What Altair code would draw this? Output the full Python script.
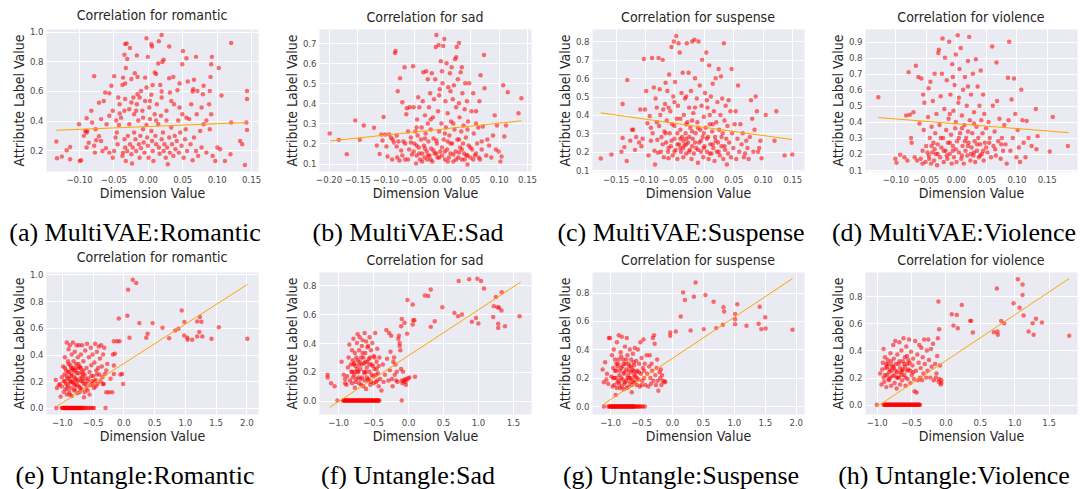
import altair as alt
import pandas as pd

# ---------------- data ----------------
NAMES = ["romantic", "sad", "suspense", "violence", "romantic", "sad", "suspense", "violence"]
CAPTIONS = ["(a) MultiVAE:Romantic", "(b) MultiVAE:Sad", "(c) MultiVAE:Suspense", "(d) MultiVAE:Violence",
            "(e) Untangle:Romantic", "(f) Untangle:Sad", "(g) Untangle:Suspense", "(h) Untangle:Violence"]

A_PTS = [
    [-0.002,0.955],[0.02,0.977],[0.006,0.90],[0.005,0.915],[-0.033,0.916],[-0.031,0.92],[-0.026,0.89],[-0.034,0.845],
    [0.016,0.935],[0.031,0.90],[0.051,0.87],[0.121,0.923],[-0.016,0.84],[-0.03,0.815],[0.0,0.83],[0.015,0.785],
    [0.021,0.795],[0.023,0.81],[0.056,0.82],[0.07,0.83],[0.093,0.83],[0.092,0.78],[0.05,0.78],[0.103,0.755],
    [-0.032,0.755],[-0.078,0.70],[-0.019,0.72],[-0.015,0.695],[0.01,0.725],[0.012,0.715],[-0.004,0.69],[0.031,0.686],
    [0.037,0.695],[0.091,0.695],[0.067,0.675],[0.081,0.635],[-0.049,0.70],[-0.036,0.69],[-0.033,0.65],[-0.037,0.64],
    [-0.024,0.68],[-0.053,0.635],[-0.071,0.52],[-0.062,0.59],[-0.056,0.585],[-0.01,0.60],[0.007,0.64],[0.018,0.64],
    [0.046,0.65],[0.058,0.664],[0.066,0.612],[0.065,0.596],[0.072,0.60],[0.08,0.578],[0.09,0.60],[0.107,0.57],
    [0.144,0.60],[0.144,0.545],[0.043,0.605],[0.032,0.59],[0.005,0.574],[-0.015,0.578],[-0.021,0.556],[-0.033,0.545],
    [-0.043,0.556],[-0.064,0.533],[-0.082,0.466],[-0.089,0.416],[-0.10,0.376],[-0.113,0.222],[-0.118,0.20],[-0.133,0.259],
    [-0.132,0.146],[-0.125,0.157],[-0.113,0.14],[-0.099,0.128],[-0.097,0.132],[-0.093,0.297],[-0.091,0.33],[-0.089,0.32],
    [-0.089,0.218],[-0.086,0.25],[-0.078,0.23],[-0.077,0.184],[-0.075,0.268],[-0.071,0.295],[-0.068,0.263],[-0.066,0.195],
    [-0.061,0.213],[-0.056,0.184],[-0.051,0.15],[-0.049,0.195],[-0.047,0.286],[-0.045,0.32],[-0.044,0.24],[-0.042,0.37],
    [-0.041,0.448],[-0.039,0.42],[-0.037,0.162],[-0.036,0.184],[-0.034,0.274],[-0.033,0.218],[-0.032,0.128],[-0.03,0.195],
    [-0.029,0.297],[-0.027,0.376],[-0.026,0.24],[-0.024,0.173],[-0.023,0.11],[-0.022,0.218],[-0.02,0.443],[-0.02,0.32],
    [-0.018,0.274],[-0.017,0.195],[-0.016,0.51],[-0.014,0.40],[-0.013,0.24],[-0.012,0.15],[-0.011,0.297],[-0.01,0.213],
    [-0.008,0.466],[-0.007,0.342],[-0.006,0.252],[-0.005,0.184],[-0.004,0.533],[-0.002,0.37],[-0.001,0.286],[0.0,0.23],
    [0.001,0.15],[0.002,0.488],[0.003,0.41],[0.005,0.33],[0.006,0.263],[0.007,0.195],[0.008,0.128],[0.01,0.443],
    [0.011,0.297],[0.012,0.24],[0.013,0.51],[0.015,0.376],[0.016,0.218],[0.017,0.177],[0.019,0.432],[0.02,0.274],
    [0.022,0.32],[0.023,0.195],[0.024,0.24],[0.026,0.15],[0.027,0.40],[0.028,0.218],[0.029,0.105],[0.031,0.286],
    [0.032,0.184],[0.034,0.353],[0.035,0.24],[0.037,0.162],[0.038,0.51],[0.039,0.297],[0.04,0.207],[0.042,0.263],
    [0.044,0.40],[0.045,0.184],[0.047,0.32],[0.049,0.23],[0.05,0.443],[0.052,0.15],[0.054,0.274],[0.055,0.342],
    [0.057,0.195],[0.06,0.41],[0.062,0.24],[0.065,0.132],[0.067,0.286],[0.07,0.195],[0.073,0.162],[0.076,0.33],
    [0.078,0.218],[0.081,0.376],[0.085,0.184],[0.089,0.51],[0.09,0.342],[0.092,0.443],[0.094,0.162],[0.098,0.128],
    [0.101,0.218],[0.105,0.207],[0.112,0.128],[0.12,0.173],[0.121,0.387],[0.134,0.263],[0.137,0.24],[0.141,0.10],
    [0.144,0.337],[0.143,0.387],[-0.041,0.51],[-0.051,0.466],[-0.056,0.432],[-0.06,0.376],[-0.068,0.41],[-0.076,0.342],
    [-0.081,0.387],[-0.088,0.33],[-0.024,0.522],[-0.027,0.477],[-0.012,0.556],[0.003,0.533],[0.02,0.556],[0.027,0.466],
    [0.034,0.533],[0.046,0.488],[0.056,0.42],[0.063,0.51],[0.071,0.443],[0.078,0.488],[0.085,0.40],[0.012,0.40],
    [-0.007,0.42],[-0.017,0.466],[-0.034,0.466],[-0.046,0.40],[-0.002,0.623],[0.02,0.596],
]

B_PTS = [
    [-0.198,0.25],[-0.182,0.218],[-0.168,0.147],[-0.153,0.315],[-0.145,0.218],[-0.138,0.29],[-0.12,0.278],[-0.115,0.19],
    [-0.11,0.148],[-0.107,0.245],[-0.105,0.215],[-0.103,0.332],[-0.1,0.245],[-0.098,0.185],[-0.096,0.135],[-0.093,0.245],
    [-0.09,0.228],[-0.088,0.12],[-0.087,0.22],[-0.085,0.205],[-0.083,0.65],[-0.082,0.66],[-0.08,0.24],[-0.079,0.13],
    [-0.078,0.46],[-0.077,0.21],[-0.075,0.115],[-0.074,0.525],[-0.072,0.165],[-0.07,0.405],[-0.068,0.21],[-0.066,0.58],
    [-0.065,0.12],[-0.063,0.345],[-0.062,0.375],[-0.06,0.26],[-0.058,0.17],[-0.057,0.38],[-0.055,0.23],[-0.053,0.145],
    [-0.051,0.585],[-0.05,0.38],[-0.049,0.2],[-0.047,0.26],[-0.046,0.1],[-0.045,0.14],[-0.044,0.32],[-0.043,0.24],
    [-0.042,0.43],[-0.041,0.18],[-0.04,0.38],[-0.039,0.12],[-0.037,0.22],[-0.036,0.28],[-0.035,0.15],[-0.034,0.41],
    [-0.033,0.555],[-0.032,0.19],[-0.031,0.13],[-0.03,0.34],[-0.029,0.25],[-0.028,0.56],[-0.027,0.16],[-0.026,0.12],
    [-0.025,0.3],[-0.024,0.21],[-0.023,0.38],[-0.022,0.14],[-0.021,0.45],[-0.02,0.27],[-0.019,0.175],[-0.018,0.55],
    [-0.017,0.11],[-0.016,0.33],[-0.015,0.225],[-0.014,0.42],[-0.013,0.15],[-0.012,0.52],[-0.011,0.68],[-0.01,0.74],
    [-0.009,0.2],[-0.008,0.13],[-0.007,0.36],[-0.006,0.69],[-0.005,0.26],[-0.004,0.47],[-0.003,0.16],[-0.002,0.61],
    [-0.001,0.3],[0.0,0.14],[0.001,0.5],[0.002,0.685],[0.003,0.22],[0.004,0.72],[0.005,0.12],[0.006,0.41],
    [0.007,0.28],[0.008,0.6],[0.009,0.17],[0.01,0.35],[0.011,0.48],[0.012,0.13],[0.013,0.24],[0.014,0.55],
    [0.015,0.15],[0.016,0.31],[0.017,0.58],[0.018,0.2],[0.019,0.42],[0.02,0.11],[0.021,0.49],[0.022,0.27],
    [0.023,0.62],[0.024,0.16],[0.025,0.38],[0.026,0.68],[0.027,0.22],[0.028,0.52],[0.029,0.13],[0.03,0.7],
    [0.031,0.33],[0.032,0.18],[0.033,0.555],[0.034,0.26],[0.035,0.12],[0.036,0.45],[0.037,0.2],[0.038,0.29],
    [0.039,0.15],[0.04,0.37],[0.041,0.5],[0.042,0.23],[0.043,0.14],[0.044,0.41],[0.045,0.095],[0.046,0.31],
    [0.047,0.19],[0.048,0.5],[0.05,0.13],[0.052,0.36],[0.053,0.17],[0.055,0.45],[0.056,0.25],[0.058,0.14],
    [0.06,0.36],[0.062,0.2],[0.064,0.28],[0.066,0.41],[0.067,0.12],[0.068,0.54],[0.07,0.17],[0.072,0.285],
    [0.074,0.64],[0.075,0.475],[0.078,0.14],[0.08,0.22],[0.083,0.19],[0.087,0.13],[0.09,0.24],[0.093,0.34],
    [0.095,0.17],[0.097,0.29],[0.1,0.16],[0.103,0.11],[0.105,0.135],[0.108,0.49],[0.11,0.235],[0.113,0.29],
    [0.116,0.455],[0.135,0.35],[0.14,0.425],
    [-0.06,0.12],[-0.05,0.16],[-0.045,0.19],[-0.04,0.15],[-0.035,0.11],[-0.03,0.175],[-0.025,0.14],[-0.02,0.12],
    [-0.015,0.165],[-0.01,0.15],[-0.005,0.13],[0.0,0.18],[0.005,0.16],[0.01,0.11],[0.015,0.2],[0.02,0.145],
    [0.025,0.12],[0.03,0.155],[0.035,0.17],[0.04,0.12],[0.045,0.14],[0.05,0.18],[0.055,0.12],[0.06,0.15],
    [0.065,0.13],[-0.07,0.14],[-0.08,0.185],[-0.065,0.2],[-0.055,0.205],[0.07,0.21],[0.01,0.21],[-0.01,0.215],
    [0.03,0.22],[-0.03,0.225],[0.005,0.25],[0.02,0.3],[-0.02,0.32],[0.045,0.27],[-0.045,0.28],[0.06,0.3],
    [0.03,0.4],[-0.005,0.44],[0.015,0.46],[0.035,0.58],[-0.025,0.52],[0.025,0.63],[0.0,0.56],
]

C_PTS = [
    [-0.175,0.163],[-0.157,0.185],[-0.14,0.2],[-0.138,0.275],[-0.138,0.46],[-0.135,0.225],[-0.131,0.15],[-0.13,0.59],
    [-0.125,0.26],[-0.122,0.32],[-0.12,0.32],[-0.117,0.21],[-0.115,0.28],[-0.11,0.25],[-0.108,0.43],[-0.106,0.23],
    [-0.104,0.27],[-0.102,0.705],[-0.1,0.43],[-0.098,0.53],[-0.096,0.355],[-0.094,0.18],[-0.092,0.395],[-0.09,0.26],
    [-0.088,0.71],[-0.087,0.3],[-0.085,0.55],[-0.084,0.205],[-0.083,0.13],[-0.082,0.49],[-0.08,0.44],[-0.079,0.265],
    [-0.078,0.195],[-0.077,0.71],[-0.076,0.34],[-0.075,0.54],[-0.074,0.4],[-0.073,0.2],[-0.072,0.28],[-0.07,0.7],
    [-0.069,0.43],[-0.068,0.17],[-0.067,0.31],[-0.066,0.46],[-0.065,0.575],[-0.064,0.25],[-0.063,0.37],[-0.062,0.53],
    [-0.061,0.2],[-0.06,0.165],[-0.059,0.62],[-0.058,0.3],[-0.057,0.42],[-0.056,0.23],[-0.055,0.77],[-0.054,0.35],
    [-0.053,0.18],[-0.052,0.5],[-0.051,0.8],[-0.05,0.27],[-0.049,0.58],[-0.048,0.21],[-0.047,0.83],[-0.046,0.38],
    [-0.045,0.16],[-0.044,0.45],[-0.043,0.79],[-0.042,0.24],[-0.041,0.74],[-0.04,0.32],[-0.039,0.2],[-0.038,0.52],
    [-0.037,0.28],[-0.036,0.63],[-0.035,0.17],[-0.034,0.4],[-0.033,0.235],[-0.032,0.49],[-0.031,0.3],[-0.03,0.19],
    [-0.029,0.79],[-0.028,0.36],[-0.027,0.25],[-0.026,0.63],[-0.025,0.44],[-0.024,0.21],[-0.023,0.33],[-0.022,0.53],
    [-0.021,0.16],[-0.02,0.8],[-0.019,0.27],[-0.018,0.41],[-0.017,0.19],[-0.016,0.81],[-0.015,0.6],[-0.014,0.3],
    [-0.013,0.22],[-0.012,0.49],[-0.011,0.36],[-0.01,0.14],[-0.009,0.8],[-0.008,0.25],[-0.007,0.56],[-0.006,0.32],
    [-0.005,0.2],[-0.004,0.45],[-0.003,0.7],[-0.002,0.28],[-0.001,0.17],[0.0,0.39],[0.001,0.23],[0.002,0.52],
    [0.003,0.33],[0.004,0.74],[0.005,0.2],[0.006,0.44],[0.007,0.28],[0.008,0.16],[0.009,0.67],[0.01,0.35],
    [0.011,0.24],[0.012,0.5],[0.013,0.19],[0.014,0.31],[0.015,0.57],[0.016,0.22],[0.017,0.42],[0.018,0.15],
    [0.019,0.28],[0.02,0.6],[0.021,0.36],[0.022,0.2],[0.023,0.47],[0.024,0.25],[0.025,0.65],[0.026,0.32],
    [0.027,0.18],[0.028,0.4],[0.029,0.61],[0.03,0.23],[0.031,0.49],[0.032,0.3],[0.033,0.16],[0.034,0.79],
    [0.035,0.37],[0.036,0.21],[0.037,0.45],[0.038,0.27],[0.039,0.13],[0.04,0.34],[0.041,0.19],[0.042,0.48],
    [0.043,0.25],[0.045,0.42],[0.046,0.17],[0.047,0.65],[0.048,0.3],[0.05,0.22],[0.052,0.35],[0.054,0.42],
    [0.055,0.16],[0.057,0.27],[0.058,0.56],[0.06,0.2],[0.062,0.35],[0.064,0.24],[0.066,0.3],[0.068,0.17],
    [0.07,0.19],[0.072,0.26],[0.074,0.22],[0.076,0.16],[0.078,0.28],[0.08,0.48],[0.082,0.38],[0.084,0.2],
    [0.086,0.32],[0.088,0.5],[0.09,0.42],[0.092,0.2],[0.094,0.22],[0.096,0.26],[0.098,0.165],[0.105,0.4],
    [0.12,0.26],[0.123,0.42],[0.137,0.18],[0.15,0.185],
    [-0.06,0.22],[-0.055,0.26],[-0.05,0.2],[-0.045,0.24],[-0.04,0.22],[-0.035,0.26],[-0.03,0.24],[-0.025,0.28],
    [-0.02,0.23],[-0.015,0.25],[-0.01,0.21],[-0.005,0.26],[0.0,0.22],[0.005,0.27],[0.01,0.19],[0.015,0.24],
    [-0.045,0.3],[-0.04,0.27],[-0.035,0.22],[-0.03,0.27],[-0.025,0.2],[-0.02,0.31],[-0.065,0.3],[-0.07,0.24],
    [0.02,0.26],[0.025,0.2],[0.03,0.28],[0.035,0.23],[-0.05,0.34],[-0.04,0.38],[-0.03,0.35],[-0.02,0.37],
    [-0.01,0.33],[0.0,0.3],[0.01,0.4],[-0.06,0.44],[-0.05,0.47],[-0.03,0.5],[-0.015,0.44],[0.005,0.48],
    [0.015,0.35],[-0.08,0.36],[-0.09,0.33],
]

D_PTS = [
    [-0.128,0.553],[-0.1,0.17],[-0.098,0.145],[-0.092,0.195],[-0.085,0.18],[-0.082,0.44],[-0.08,0.16],[-0.078,0.71],
    [-0.076,0.445],[-0.074,0.3],[-0.073,0.27],[-0.07,0.46],[-0.068,0.18],[-0.066,0.75],[-0.064,0.16],[-0.062,0.68],
    [-0.06,0.39],[-0.058,0.17],[-0.057,0.67],[-0.055,0.14],[-0.054,0.57],[-0.053,0.35],[-0.052,0.52],[-0.05,0.15],
    [-0.049,0.25],[-0.047,0.21],[-0.046,0.43],[-0.045,0.61],[-0.044,0.17],[-0.043,0.3],[-0.042,0.65],[-0.041,0.14],
    [-0.04,0.37],[-0.039,0.21],[-0.038,0.53],[-0.037,0.27],[-0.036,0.16],[-0.035,0.7],[-0.034,0.33],[-0.033,0.2],
    [-0.032,0.45],[-0.031,0.13],[-0.03,0.26],[-0.029,0.83],[-0.028,0.85],[-0.027,0.38],[-0.026,0.18],[-0.025,0.56],
    [-0.024,0.24],[-0.023,0.7],[-0.022,0.92],[-0.021,0.3],[-0.02,0.15],[-0.019,0.48],[-0.018,0.8],[-0.017,0.22],
    [-0.016,0.35],[-0.015,0.66],[-0.014,0.17],[-0.013,0.27],[-0.012,0.42],[-0.011,0.9],[-0.01,0.2],[-0.009,0.57],
    [-0.008,0.32],[-0.007,0.14],[-0.006,0.76],[-0.005,0.25],[-0.004,0.47],[-0.003,0.18],[-0.002,0.63],[-0.001,0.36],
    [0.0,0.82],[0.001,0.15],[0.002,0.28],[0.003,0.94],[0.004,0.52],[0.005,0.21],[0.006,0.73],[0.007,0.33],
    [0.008,0.86],[0.009,0.17],[0.01,0.44],[0.011,0.25],[0.012,0.6],[0.013,0.14],[0.014,0.38],[0.015,0.68],
    [0.016,0.22],[0.017,0.3],[0.018,0.5],[0.019,0.19],[0.02,0.78],[0.021,0.27],[0.022,0.93],[0.023,0.41],
    [0.024,0.16],[0.025,0.57],[0.026,0.24],[0.027,0.33],[0.028,0.7],[0.029,0.19],[0.03,0.46],[0.031,0.28],
    [0.032,0.15],[0.033,0.79],[0.034,0.37],[0.035,0.22],[0.036,0.62],[0.037,0.3],[0.038,0.18],[0.039,0.5],
    [0.04,0.26],[0.041,0.72],[0.042,0.41],[0.043,0.2],[0.044,0.33],[0.045,0.57],[0.046,0.16],[0.047,0.45],
    [0.048,0.27],[0.05,0.36],[0.052,0.21],[0.054,0.4],[0.056,0.3],[0.058,0.18],[0.06,0.87],[0.061,0.5],
    [0.062,0.25],[0.064,0.34],[0.066,0.19],[0.067,0.77],[0.068,0.53],[0.07,0.28],[0.072,0.42],[0.074,0.17],
    [0.076,0.3],[0.078,0.22],[0.08,0.38],[0.082,0.26],[0.084,0.14],[0.086,0.675],[0.087,0.41],[0.088,0.9],
    [0.09,0.22],[0.092,0.54],[0.094,0.3],[0.096,0.67],[0.098,0.45],[0.1,0.18],[0.102,0.35],[0.104,0.24],
    [0.106,0.15],[0.108,0.6],[0.11,0.41],[0.112,0.27],[0.115,0.18],[0.117,0.405],[0.12,0.3],[0.125,0.25],
    [0.132,0.48],[0.133,0.23],[0.135,0.31],[0.155,0.215],[0.16,0.43],[0.185,0.25],
    [-0.04,0.25],[-0.03,0.2],[-0.02,0.22],[-0.01,0.27],[0.0,0.23],[0.01,0.19],[0.02,0.25],[0.03,0.21],
    [0.04,0.19],[0.05,0.24],[0.005,0.3],[0.015,0.28],[0.025,0.2],[0.035,0.26],[-0.015,0.19],[-0.005,0.22],
    [0.045,0.22],[0.055,0.27],[0.065,0.23],[0.075,0.26],[-0.025,0.3],[-0.035,0.23],[-0.045,0.19],[-0.055,0.22],
    [0.0,0.4],[0.01,0.36],[0.02,0.34],[0.03,0.39],[-0.01,0.45],[0.005,0.55],[0.02,0.62],[-0.005,0.68],
]

E_PTS = [
    [0.077,0.885],[0.153,0.96],[0.21,0.935],[0.066,0.69],[-0.074,0.67],[0.26,0.635],[0.476,0.635],[0.1,0.525],
    [0.373,0.525],[0.395,0.555],[0.637,0.60],[0.745,0.522],[0.843,0.58],[0.897,0.593],[0.95,0.73],[0.993,0.643],
    [0.99,0.543],[1.04,0.525],[1.046,0.51],[1.12,0.51],[1.2,0.535],[1.2,0.648],[1.245,0.68],[1.235,0.568],
    [1.27,0.645],[1.284,0.535],[1.434,0.518],[1.553,0.605],[2.016,0.518],
    [-0.1,0.5],[-0.154,0.5],[-0.063,0.5],[-0.138,0.405],[-0.17,0.4],[-0.26,0.33],[-0.277,0.28],[-0.208,0.218],
    [-0.154,0.318],[-0.154,0.255],[-0.047,0.25],[-0.02,0.255],[-0.004,0.18],[-0.235,0.118],[-0.181,0.118],[-0.277,0.118],
    [-0.332,0.18],[-0.3,0.255],
    [-1.1,0.21],[-1.08,0.15],[-1.05,0.17],[-1.03,0.18],[-1.02,0.085],[-1.0,0.23],[-1.0,0.16],[-0.98,0.31],
    [-0.97,0.12],[-0.96,0.25],[-0.95,0.38],[-0.95,0.2],[-0.94,0.14],[-0.93,0.28],[-0.92,0.49],[-0.92,0.1],
    [-0.91,0.22],[-0.9,0.35],[-0.9,0.17],[-0.89,0.44],[-0.88,0.27],[-0.88,0.12],[-0.87,0.47],[-0.87,0.2],
    [-0.86,0.32],[-0.85,0.24],[-0.85,0.15],[-0.84,0.4],[-0.84,0.09],[-0.83,0.29],[-0.82,0.49],[-0.82,0.19],
    [-0.81,0.35],[-0.8,0.23],[-0.8,0.13],[-0.79,0.42],[-0.78,0.28],[-0.78,0.17],[-0.77,0.33],[-0.76,0.47],
    [-0.76,0.21],[-0.75,0.11],[-0.74,0.38],[-0.73,0.26],[-0.72,0.47],[-0.72,0.16],[-0.71,0.31],[-0.7,0.22],
    [-0.69,0.4],[-0.68,0.14],[-0.68,0.27],[-0.67,0.47],[-0.66,0.2],[-0.65,0.35],[-0.64,0.08],[-0.63,0.25],
    [-0.62,0.43],[-0.61,0.18],[-0.6,0.3],[-0.59,0.48],[-0.58,0.13],[-0.57,0.22],[-0.56,0.38],[-0.55,0.27],
    [-0.54,0.17],[-0.53,0.45],[-0.52,0.32],[-0.51,0.2],[-0.5,0.4],[-0.49,0.24],[-0.48,0.15],[-0.47,0.34],
    [-0.46,0.48],[-0.45,0.21],[-0.44,0.28],[-0.43,0.42],[-0.42,0.18],[-0.41,0.3],[-0.4,0.46],[-0.39,0.25],
    [-0.38,0.37],[-0.37,0.2],[-0.36,0.47],[-0.35,0.31],[-0.34,0.23],[-0.33,0.4],[-0.32,0.18],[-0.31,0.45],
    [-0.95,0.3],[-0.92,0.24],[-0.9,0.27],[-0.88,0.22],[-0.86,0.19],[-0.84,0.25],[-0.82,0.3],[-0.8,0.18],
    [-0.78,0.22],[-0.76,0.26],[-0.74,0.2],[-0.72,0.3],[-0.7,0.15],[-0.68,0.2],[-0.66,0.25],[-0.64,0.18],
    [-0.62,0.22],[-0.6,0.15],[-0.93,0.18],[-0.97,0.2],[-0.89,0.33],[-0.85,0.3],[-0.81,0.28],[-0.77,0.3],
    [-0.73,0.33],[-0.69,0.3],[-0.65,0.28],[-0.91,0.15],[-0.87,0.1],[-0.83,0.2],[-0.79,0.14],[-0.75,0.17],
    [-0.71,0.12],[-0.67,0.23],[-0.63,0.12],[-0.58,0.2],[-0.55,0.1],[-0.52,0.24],[-0.5,0.18],[-0.47,0.2],
    [-0.45,0.16],[-0.43,0.25],
]
E_ZERO = [-1.09, -1.0, -0.99, -0.98, -0.97, -0.96, -0.95, -0.94, -0.93, -0.92, -0.91, -0.9, -0.89, -0.88,
          -0.87, -0.86, -0.85, -0.84, -0.83, -0.82, -0.81, -0.8, -0.79, -0.78, -0.77, -0.76, -0.75, -0.74,
          -0.73, -0.72, -0.71, -0.7, -0.69, -0.68, -0.67, -0.66, -0.64, -0.62, -0.6, -0.57, -0.55, -0.52,
          -0.5, -0.48, -0.29]

F_PTS = [
    [-0.008,0.698],[0.066,0.667],[0.24,0.73],[0.288,0.726],[0.325,0.772],[0.49,0.649],[0.382,0.551],[0.325,0.512],
    [-0.089,0.567],[-0.051,0.54],[0.075,0.558],[0.09,0.558],[0.066,0.528],[-0.013,0.465],[-0.098,0.516],[0.724,0.83],
    [0.874,0.842],[0.992,0.846],[1.044,0.83],[1.086,0.779],[0.663,0.609],[0.715,0.586],[0.771,0.598],[0.912,0.547],
    [0.973,0.574],[1.006,0.535],[1.218,0.581],[1.227,0.656],[1.256,0.719],[1.28,0.649],[1.303,0.644],[1.336,0.626],
    [1.34,0.753],[1.289,0.533],[1.289,0.505],[1.387,0.516],[1.594,0.586],
    [-1.15,0.16],[-1.15,0.18],[-1.1,0.12],[-1.05,0.1],[-0.95,0.27],[-0.92,0.18],[-0.9,0.15],[-0.9,0.12],
    [-0.88,0.11],[-0.87,0.17],[-0.86,0.23],[-0.85,0.3],[-0.84,0.39],[-0.83,0.14],[-0.82,0.25],[-0.81,0.2],
    [-0.8,0.35],[-0.8,0.12],[-0.79,0.28],[-0.78,0.43],[-0.77,0.18],[-0.76,0.33],[-0.76,0.09],[-0.75,0.24],
    [-0.74,0.15],[-0.73,0.4],[-0.72,0.46],[-0.72,0.28],[-0.71,0.2],[-0.7,0.12],[-0.7,0.35],[-0.69,0.44],
    [-0.68,0.22],[-0.67,0.3],[-0.66,0.16],[-0.66,0.38],[-0.65,0.42],[-0.64,0.1],[-0.63,0.26],[-0.62,0.47],
    [-0.62,0.19],[-0.61,0.33],[-0.6,0.08],[-0.6,0.41],[-0.59,0.23],[-0.58,0.37],[-0.57,0.14],[-0.56,0.29],
    [-0.55,0.44],[-0.55,0.2],[-0.54,0.11],[-0.53,0.35],[-0.52,0.25],[-0.51,0.4],[-0.5,0.17],[-0.49,0.31],
    [-0.48,0.22],[-0.47,0.47],[-0.46,0.13],[-0.45,0.27],[-0.44,0.36],[-0.43,0.19],[-0.42,0.1],[-0.41,0.3],
    [-0.4,0.15],[-0.38,0.07],[-0.36,0.25],[-0.35,0.13],[-0.33,0.18],[-0.31,0.49],[-0.3,0.29],[-0.28,0.14],
    [-0.27,0.47],[-0.26,0.21],[-0.25,0.34],[-0.24,0.45],[-0.23,0.15],[-0.22,0.1],[-0.21,0.27],[-0.2,0.3],
    [-0.19,0.18],[-0.18,0.25],[-0.17,0.14],[-0.16,0.2],[-0.15,0.13],[-0.14,0.43],[-0.13,0.45],[-0.12,0.38],
    [-0.12,0.4],[-0.11,0.35],[-0.1,0.22],[-0.09,0.14],[-0.08,0.12],[-0.07,0.2],[-0.06,0.14],[-0.05,0.13],
    [-0.04,0.15],[-0.03,0.11],[-0.02,0.14],[0.0,0.155],[0.02,0.16],[0.1,0.165],
    [-0.8,0.2],[-0.78,0.25],[-0.76,0.2],[-0.74,0.3],[-0.72,0.2],[-0.7,0.25],[-0.68,0.15],[-0.66,0.25],
    [-0.64,0.3],[-0.62,0.14],[-0.6,0.2],[-0.58,0.27],[-0.56,0.15],[-0.54,0.3],[-0.52,0.18],[-0.5,0.24],
    [-0.48,0.3],[-0.46,0.18],[-0.44,0.14],[-0.42,0.24],[-0.79,0.16],[-0.75,0.13],[-0.71,0.16],[-0.67,0.11],
    [-0.63,0.2],[-0.59,0.16],[-0.57,0.38],[-0.53,0.13],[-0.49,0.12],[-0.45,0.22],[-0.65,0.33],[-0.69,0.27],
    [-0.73,0.22],[-0.77,0.26],[-0.61,0.27],[-0.55,0.25],
]
F_ZERO = [-1.01, -0.93, -0.92, -0.91, -0.9, -0.89, -0.88, -0.87, -0.86, -0.85, -0.84, -0.83, -0.82, -0.81,
          -0.8, -0.79, -0.78, -0.77, -0.76, -0.75, -0.74, -0.73, -0.72, -0.71, -0.7, -0.69, -0.68, -0.67,
          -0.66, -0.65, -0.64, -0.63, -0.62, -0.61, -0.6, -0.59, -0.58, -0.57, -0.56, -0.55, -0.54, -0.53,
          -0.52, -0.51, -0.5, -0.49, -0.48, -0.47, -0.46, -0.45, -0.44, -0.43, -0.42, -0.41, -0.09]

G_PTS = [
    [0.381,0.87],[0.179,0.8],[0.354,0.77],[0.21,0.747],[0.54,0.782],[0.673,0.735],[0.832,0.696],[0.843,0.666],
    [1.055,0.717],[0.142,0.631],[1.02,0.65],[1.02,0.612],[1.02,0.578],[1.204,0.566],[1.417,0.7],[1.507,0.626],
    [1.4,0.58],[1.443,0.543],[1.512,0.548],[1.947,0.538],[0.514,0.543],[0.301,0.534],[0.715,0.55],[0.822,0.573],
    [0.062,0.527],[-0.028,0.52],[-0.028,0.497],
    [-1.12,0.26],[-1.1,0.17],[-1.08,0.31],[-1.06,0.19],[-1.05,0.23],[-1.03,0.16],[-1.02,0.48],[-1.0,0.48],
    [-0.98,0.21],[-0.97,0.36],[-0.96,0.14],[-0.95,0.27],[-0.94,0.4],[-0.93,0.2],[-0.92,0.33],[-0.91,0.08],
    [-0.9,0.25],[-0.89,0.45],[-0.88,0.17],[-0.87,0.3],[-0.86,0.5],[-0.85,0.22],[-0.84,0.13],[-0.83,0.38],
    [-0.82,0.27],[-0.81,0.49],[-0.8,0.19],[-0.79,0.33],[-0.78,0.12],[-0.77,0.24],[-0.76,0.42],[-0.75,0.3],
    [-0.74,0.18],[-0.73,0.48],[-0.72,0.36],[-0.71,0.22],[-0.7,0.14],[-0.69,0.28],[-0.68,0.4],[-0.67,0.2],
    [-0.66,0.33],[-0.65,0.1],[-0.64,0.26],[-0.63,0.37],[-0.62,0.17],[-0.61,0.29],[-0.6,0.41],[-0.59,0.21],
    [-0.58,0.32],[-0.57,0.15],[-0.56,0.25],[-0.55,0.4],[-0.54,0.19],[-0.53,0.3],[-0.52,0.14],[-0.51,0.45],
    [-0.5,0.23],[-0.49,0.34],[-0.48,0.18],[-0.47,0.27],[-0.46,0.47],[-0.45,0.2],[-0.44,0.3],[-0.43,0.15],
    [-0.41,0.36],[-0.4,0.23],[-0.38,0.14],[-0.37,0.28],[-0.36,0.36],[-0.35,0.2],[-0.34,0.16],[-0.33,0.3],
    [-0.32,0.25],[-0.31,0.48],[-0.3,0.18],[-0.29,0.5],[-0.28,0.44],[-0.27,0.22],[-0.26,0.15],[-0.25,0.27],
    [-0.24,0.33],[-0.23,0.18],[-0.22,0.11],[-0.2,0.24],[-0.19,0.2],[-0.18,0.26],[-0.17,0.15],[-0.16,0.22],
    [-0.15,0.18],[-0.12,0.17],[-0.11,0.175],
    [-0.95,0.2],[-0.92,0.25],[-0.9,0.2],[-0.88,0.28],[-0.86,0.18],[-0.84,0.25],[-0.82,0.2],[-0.8,0.28],
    [-0.78,0.23],[-0.76,0.17],[-0.74,0.26],[-0.72,0.2],[-0.7,0.25],[-0.68,0.17],[-0.66,0.24],[-0.64,0.19],
    [-0.62,0.25],[-0.6,0.17],[-0.58,0.24],[-0.9,0.3],[-0.86,0.33],[-0.82,0.35],[-0.78,0.3],[-0.74,0.33],
    [-0.7,0.3],[-0.66,0.28],[-0.62,0.31],[-0.93,0.15],[-0.89,0.13],[-0.85,0.16],[-0.81,0.14],[-0.77,0.16],
    [-0.73,0.13],[-0.69,0.2],[-0.65,0.15],[-0.61,0.22],[-0.57,0.2],[-0.53,0.24],[-0.49,0.15],[-0.45,0.25],
]
G_ZERO = [-1.1, -1.03, -1.01, -1.0, -0.99, -0.98, -0.97, -0.96, -0.95, -0.94, -0.93, -0.92, -0.91, -0.9,
          -0.89, -0.88, -0.87, -0.86, -0.85, -0.84, -0.83, -0.82, -0.81, -0.8, -0.79, -0.78, -0.77, -0.76,
          -0.75, -0.74, -0.73, -0.72, -0.71, -0.7, -0.69, -0.68, -0.67, -0.66, -0.65, -0.64, -0.63, -0.62,
          -0.61, -0.6, -0.58, -0.56, -0.54, -0.52, -0.5, -0.47, -0.44]

H_PTS = [
    [-0.102,0.76],[0.092,0.667],[0.165,0.662],[0.238,0.735],[0.117,0.584],[0.18,0.564],[0.359,0.618],[0.374,0.618],
    [0.398,0.533],[-0.092,0.557],[0.748,0.856],[0.704,0.535],[0.757,0.54],[0.762,0.516],[0.81,0.618],[0.854,0.601],
    [0.99,0.747],[1.053,0.925],[1.078,0.715],[1.121,0.808],[1.121,0.886],[1.136,0.657],[1.209,0.54],[1.267,0.601],
    [1.282,0.516],[1.316,0.633],[1.403,0.606],[1.8,0.508],
    [-0.95,0.23],[-0.93,0.15],[-0.92,0.26],[-0.91,0.31],[-0.9,0.41],[-0.9,0.2],[-0.89,0.17],[-0.88,0.35],
    [-0.87,0.27],[-0.86,0.13],[-0.85,0.22],[-0.84,0.33],[-0.83,0.3],[-0.82,0.18],[-0.81,0.26],[-0.8,0.38],
    [-0.79,0.14],[-0.78,0.29],[-0.77,0.21],[-0.76,0.44],[-0.75,0.34],[-0.74,0.16],[-0.73,0.47],[-0.72,0.25],
    [-0.71,0.12],[-0.7,0.37],[-0.69,0.2],[-0.68,0.3],[-0.67,0.46],[-0.66,0.15],[-0.65,0.24],[-0.64,0.4],
    [-0.63,0.18],[-0.62,0.32],[-0.61,0.49],[-0.6,0.22],[-0.59,0.28],[-0.58,0.14],[-0.57,0.43],[-0.56,0.36],
    [-0.55,0.19],[-0.54,0.26],[-0.53,0.48],[-0.52,0.31],[-0.51,0.16],[-0.5,0.39],[-0.49,0.22],[-0.48,0.29],
    [-0.47,0.34],[-0.46,0.19],[-0.45,0.1],[-0.44,0.47],[-0.43,0.25],[-0.42,0.09],[-0.41,0.37],[-0.4,0.18],
    [-0.39,0.31],[-0.38,0.44],[-0.37,0.2],[-0.36,0.27],[-0.35,0.42],[-0.34,0.18],[-0.33,0.35],[-0.32,0.23],
    [-0.31,0.48],[-0.3,0.3],[-0.28,0.2],[-0.27,0.4],[-0.26,0.25],[-0.25,0.48],[-0.24,0.33],[-0.22,0.2],
    [-0.21,0.41],[-0.2,0.28],[-0.18,0.45],[-0.17,0.18],[-0.15,0.3],[-0.14,0.2],[-0.13,0.23],[-0.12,0.36],
    [-0.11,0.49],[-0.1,0.17],[-0.09,0.19],[-0.08,0.29],[-0.07,0.15],[-0.06,0.16],[-0.06,0.18],
    [-0.88,0.22],[-0.85,0.28],[-0.82,0.24],[-0.8,0.2],[-0.78,0.25],[-0.76,0.28],[-0.74,0.22],[-0.72,0.3],
    [-0.7,0.24],[-0.68,0.2],[-0.66,0.27],[-0.64,0.22],[-0.62,0.26],[-0.6,0.3],[-0.58,0.2],[-0.56,0.25],
    [-0.54,0.33],[-0.86,0.3],[-0.83,0.19],[-0.79,0.32],[-0.75,0.27],[-0.71,0.2],[-0.67,0.32],[-0.63,0.25],
    [-0.59,0.35],[-0.55,0.3],[-0.51,0.25],[-0.47,0.24],
]
H_ZERO = [-1.0, -0.9, -0.89, -0.88, -0.87, -0.86, -0.85, -0.84, -0.83, -0.82, -0.81, -0.8, -0.79, -0.78,
          -0.77, -0.76, -0.75, -0.74, -0.73, -0.72, -0.71, -0.7, -0.69, -0.68, -0.67, -0.66, -0.65, -0.64,
          -0.63, -0.62, -0.61, -0.6, -0.59, -0.58, -0.57, -0.56, -0.55, -0.54, -0.53, -0.52, -0.51, -0.5,
          -0.49, -0.48, -0.47, -0.46, -0.45, -0.44, -0.43, -0.42, -0.41, -0.4, -0.39, -0.38, -0.37]

# fitted regression line end points (x, y)
LINES = [
    [[-0.133, 0.335], [0.144, 0.387]],
    [[-0.197, 0.213], [0.14, 0.313]],
    [[-0.175, 0.411], [0.15, 0.266]],
    [[-0.128, 0.427], [0.186, 0.333]],
    [[-1.09, 0.01], [2.02, 0.925]],
    [[-1.12, -0.047], [1.61, 0.823]],
    [[-1.106, 0.016], [1.947, 0.898]],
    [[-1.0, -0.015], [1.8, 0.93]],
]

X_DOMAINS = [[-0.148, 0.16], [-0.217, 0.157], [-0.19, 0.17], [-0.15, 0.2],
             [-1.258, 2.19], [-1.273, 1.758], [-1.292, 2.133], [-1.17, 1.913]]
Y_DOMAINS = [[0.06, 1.018], [0.063, 0.77], [0.095, 0.868], [0.094, 0.979],
             [-0.045, 1.0175], [-0.093, 0.893], [-0.053, 0.944], [-0.068, 0.978]]
X_TICKS = [[-0.10, -0.05, 0.0, 0.05, 0.10, 0.15],
           [-0.20, -0.15, -0.10, -0.05, 0.0, 0.05, 0.10, 0.15],
           [-0.15, -0.10, -0.05, 0.0, 0.05, 0.10, 0.15],
           [-0.10, -0.05, 0.0, 0.05, 0.10, 0.15],
           [-1.0, -0.5, 0.0, 0.5, 1.0, 1.5, 2.0],
           [-1.0, -0.5, 0.0, 0.5, 1.0, 1.5],
           [-1.0, -0.5, 0.0, 0.5, 1.0, 1.5, 2.0],
           [-1.0, -0.5, 0.0, 0.5, 1.0, 1.5]]
Y_TICKS = [[0.2, 0.4, 0.6, 0.8, 1.0],
           [0.1, 0.2, 0.3, 0.4, 0.5, 0.6, 0.7],
           [0.1, 0.2, 0.3, 0.4, 0.5, 0.6, 0.7, 0.8],
           [0.1, 0.2, 0.3, 0.4, 0.5, 0.6, 0.7, 0.8, 0.9],
           [0.0, 0.2, 0.4, 0.6, 0.8, 1.0],
           [0.0, 0.2, 0.4, 0.6, 0.8],
           [0.0, 0.2, 0.4, 0.6, 0.8],
           [0.0, 0.2, 0.4, 0.6, 0.8]]
X_FORMATS = [".2f"] * 4 + [".1f"] * 4

POINTS = [A_PTS, B_PTS, C_PTS, D_PTS, E_PTS, F_PTS, G_PTS, H_PTS]
ZEROS = [[], [], [], [], E_ZERO, F_ZERO, G_ZERO, H_ZERO]

# ---------------- chart ----------------
W, H = 212, 142
SANS = "DejaVu Sans Condensed, DejaVu Sans"


def make_panel(i):
    rows = [{"x": p[0], "y": p[1]} for p in POINTS[i]] + [{"x": z, "y": 0.0} for z in ZEROS[i]]
    df = pd.DataFrame(rows)
    ldf = pd.DataFrame(LINES[i], columns=["x", "y"])
    xenc = alt.X("x:Q", scale=alt.Scale(domain=X_DOMAINS[i], nice=False, zero=False),
                 axis=alt.Axis(values=X_TICKS[i], format=X_FORMATS[i], title="Dimension Value"))
    yenc = alt.Y("y:Q", scale=alt.Scale(domain=Y_DOMAINS[i], nice=False, zero=False),
                 axis=alt.Axis(values=Y_TICKS[i], format=".1f", title="Attribute Label Value"))
    pts = alt.Chart(df).mark_circle(size=20, opacity=0.55, color="#ff0000").encode(x=xenc, y=yenc)
    line = alt.Chart(ldf).mark_line(color="#ffa500", strokeWidth=1).encode(x=xenc, y=yenc)
    cap = alt.Chart(pd.DataFrame({"t": [CAPTIONS[i]]})).mark_text(
        font="Liberation Serif", fontSize=26, color="black", baseline="middle", align="center"
    ).encode(text="t:N", x=alt.value(W / 2 - 17), y=alt.value(H + 62))
    return alt.layer(pts, line, cap).properties(
        width=W, height=H, title="Correlation for " + NAMES[i])


panels = [make_panel(i) for i in range(8)]

chart = alt.concat(*panels, columns=4, spacing={"row": 101, "column": 61}, bounds="flush").properties(
    padding={"left": 0, "top": 0, "right": 0, "bottom": 0}
).configure_view(
    fill="#EAEAF2", stroke="transparent"
).configure_axis(
    labelFont=SANS, labelFontSize=9.5, labelColor="#4a4a4a", labelPadding=3,
    titleFont=SANS, titleFontSize=14, titleFontWeight="normal", titleColor="#262626", titlePadding=3,
    grid=True, gridColor="white", gridWidth=1, domain=False, ticks=False,
    labelOverlap=False, labelFlush=False,
).configure_title(
    font=SANS, fontSize=14, fontWeight="normal", color="#262626", offset=4, anchor="middle"
)

chart.save("out.html", embed_options={"renderer": "svg", "actions": False})
